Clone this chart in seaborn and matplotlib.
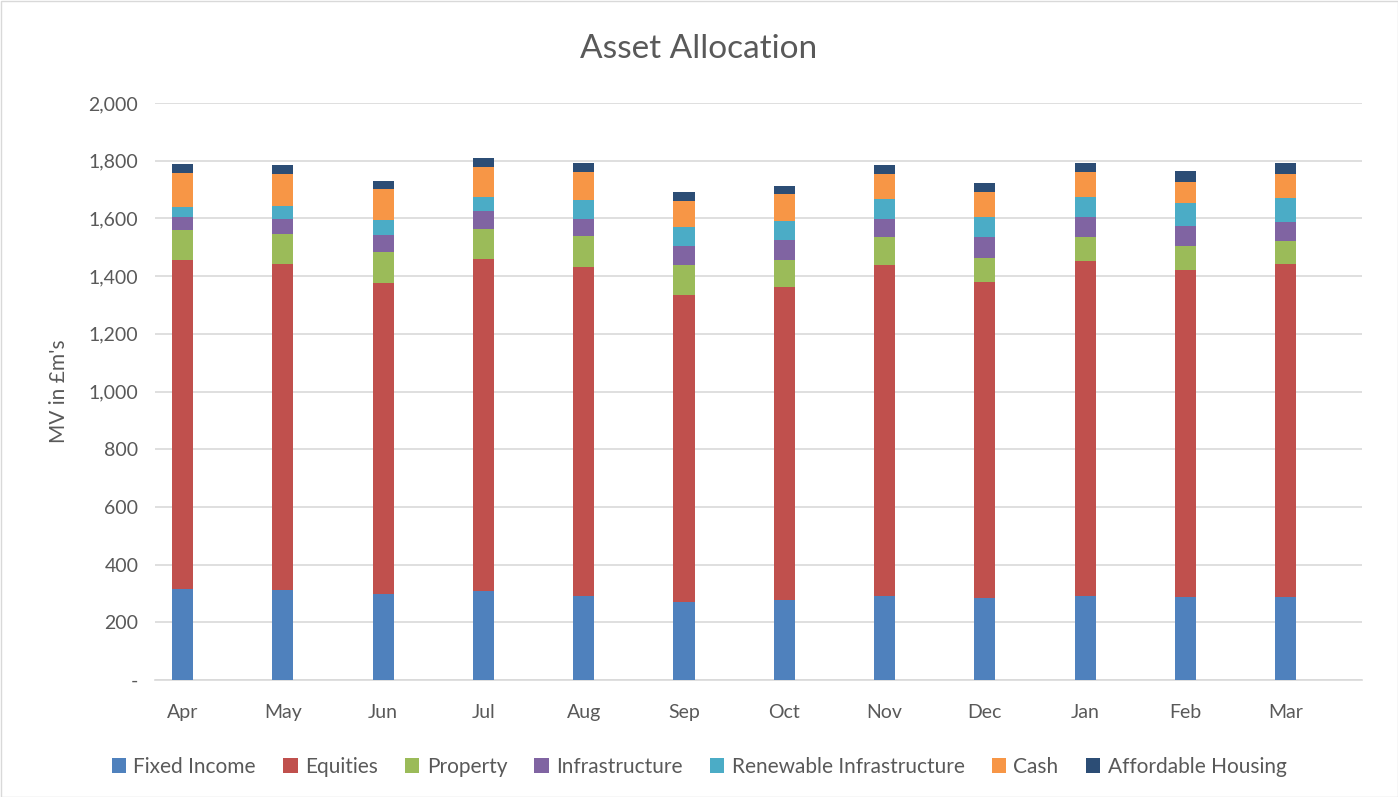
import numpy as np
import pandas as pd
import seaborn as sns
import matplotlib
matplotlib.use('Agg')
import matplotlib.pyplot as plt
from matplotlib.patches import Patch, Rectangle
from matplotlib.ticker import FuncFormatter

months = ['Apr', 'May', 'Jun', 'Jul', 'Aug', 'Sep', 'Oct', 'Nov', 'Dec', 'Jan', 'Feb', 'Mar']
series_names = ['Fixed Income', 'Equities', 'Property', 'Infrastructure',
                'Renewable Infrastructure', 'Cash', 'Affordable Housing']

# values, MV in £m
fixed_income = [315, 312, 298, 308, 292, 271, 278, 292, 285, 292, 288, 288]
equities = [1141, 1130, 1078, 1151, 1140, 1063, 1084, 1146, 1095, 1160, 1133, 1154]
property_ = [104, 104, 108, 104, 107, 104, 94, 98, 83, 84, 83, 80]
infrastructure = [45, 52, 58, 63, 59, 66, 69, 62, 73, 69, 70, 66]
renewable = [35, 45, 52, 48, 66, 66, 66, 69, 69, 69, 79, 83]
cash = [117, 111, 108, 104, 97, 90, 94, 87, 86, 87, 73, 83]
affordable_housing = [32, 31, 28, 31, 31, 31, 27, 31, 32, 31, 38, 38]

colors = ['#4F81BD', '#C0504D', '#9BBB59', '#8064A2', '#4BACC6', '#F79646', '#2C4D75']

data = pd.DataFrame({
    'Fixed Income': fixed_income,
    'Equities': equities,
    'Property': property_,
    'Infrastructure': infrastructure,
    'Renewable Infrastructure': renewable,
    'Cash': cash,
    'Affordable Housing': affordable_housing,
}, index=months)
cumData = data.cumsum(axis=1)

sns.set_style('white')
plt.rcParams['font.family'] = ['Lato', 'DejaVu Sans']

fig = plt.figure(figsize=(13.98, 7.97), dpi=100)
ax = fig.add_axes([155 / 1398, 1 - 680 / 797, 1207 / 1398, 577 / 797])

# stacked bars: draw the running totals from the tallest down
for name, col in reversed(list(zip(series_names, colors))):
    sns.barplot(x=months, y=cumData[name].values, color=col, width=0.21,
                saturation=1, ax=ax, linewidth=0, zorder=3)

# bars sit left of the slot centre in the original chart
ax.set_xlim(-0.274, 11.76)
ax.set_ylim(0, 2000)
ax.set_yticks(np.arange(0, 2001, 200))
ax.yaxis.set_major_formatter(FuncFormatter(lambda v, p: '-' if v == 0 else '{:,.0f}'.format(v)))
ax.grid(axis='y', color='#D9D9D9', linewidth=1.2, zorder=0)
ax.set_axisbelow(True)
for s in ['top', 'right', 'left']:
    ax.spines[s].set_visible(False)
ax.spines['bottom'].set_color('#D9D9D9')
ax.spines['bottom'].set_linewidth(1.2)
ax.tick_params(axis='both', length=0, labelsize=14, labelcolor='#595959')
ax.tick_params(axis='y', pad=12)
ax.tick_params(axis='x', pad=17)
ax.set_xlabel('')
ax.set_ylabel("MV in £m's", fontsize=15, color='#595959', labelpad=14)

fig.text(0.5, 1 - 49 / 797, 'Asset Allocation', ha='center', va='center',
         fontsize=24, color='#595959')

handles = [Patch(facecolor=c, edgecolor='none') for c in colors]
fig.legend(handles, series_names, loc='center', bbox_to_anchor=(0.5, 1 - 767 / 797),
           ncol=7, frameon=False, fontsize=15, labelcolor='#595959',
           handlelength=0.7, handleheight=0.7, handletextpad=0.35, columnspacing=1.3)

fig.patches.append(Rectangle((0.5 / 1398, 0.5 / 797), 1 - 1 / 1398, 1 - 1 / 797,
                             transform=fig.transFigure, fill=False,
                             edgecolor='#D9D9D9', linewidth=1))

fig.savefig('out.png', dpi=100)
